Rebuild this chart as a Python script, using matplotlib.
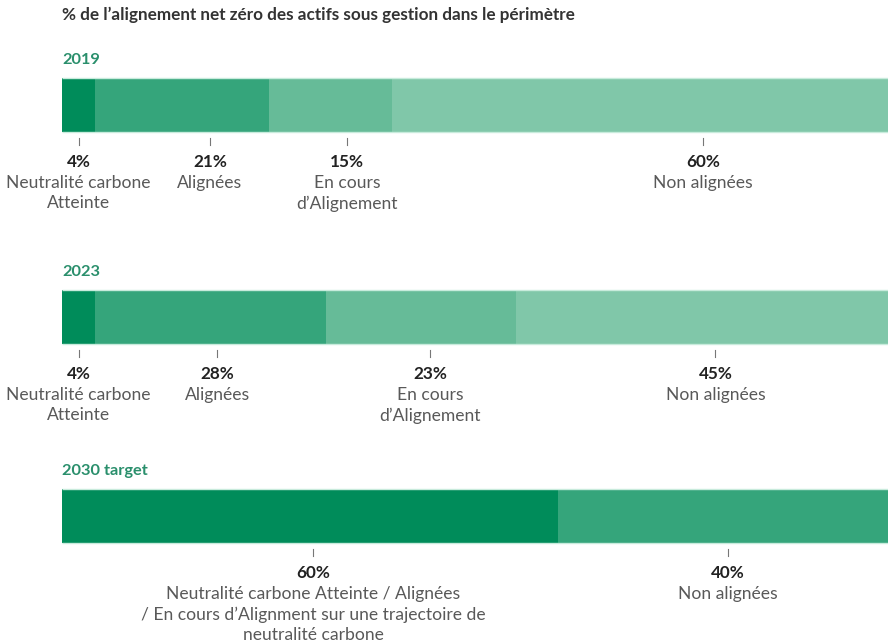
import matplotlib.pyplot as plt

plt.rcParams['font.family'] = ['Lato', 'DejaVu Sans']

title = '% de l’alignement net zéro des actifs sous gestion dans le périmètre'

years = ['2019', '2023', '2030 target']

values_2019 = [4, 21, 15, 60]
labels_2019 = ['Neutralité carbone\nAtteinte', 'Alignées',
               'En cours\nd’Alignement', 'Non alignées']

values_2023 = [4, 28, 23, 45]
labels_2023 = ['Neutralité carbone\nAtteinte', 'Alignées',
               'En cours\nd’Alignement', 'Non alignées']

values_2030 = [60, 40]
labels_2030 = ['Neutralité carbone Atteinte / Alignées\n'
               '/ En cours d’Alignment sur une trajectoire de\n'
               'neutralité carbone',
               'Non alignées']

# couleurs et positions des étiquettes (mise en page)
colors_4 = ['#008c5a', '#35a57b', '#66bb98', '#80c7a9']
colors_2 = ['#008c5a', '#35a57b']
label_x_2019 = [2.0, 17.9, 34.5, 77.6]
label_x_2023 = [2.0, 18.8, 44.6, 79.1]
label_x_2030 = [30.4, 80.6]
bar_tops = [78, 290, 489]
bar_h = 54

rows = [
    (years[0], values_2019, labels_2019, colors_4, label_x_2019, bar_tops[0]),
    (years[1], values_2023, labels_2023, colors_4, label_x_2023, bar_tops[1]),
    (years[2], values_2030, labels_2030, colors_2, label_x_2030, bar_tops[2]),
]

fig = plt.figure(figsize=(8.88, 6.42), dpi=100)
ax = fig.add_axes([62 / 888, 0, 826 / 888, 1])
ax.set_xlim(0, 100)
ax.set_ylim(642, 0)
ax.axis('off')

ax.text(0, 15, title, ha='left', va='center', fontsize=12.3,
        fontweight='bold', color='#333333')

for year, values, labels, colors, label_x, top in rows:
    ax.text(0, top - 18, year, ha='left', va='center', fontsize=11.8,
            fontweight='bold', color='#2a8f6c')

    lefts = [sum(values[:i]) for i in range(len(values))]
    ax.barh(top + bar_h / 2, values, left=lefts, height=bar_h, color=colors)
    bottom = top + bar_h
    ax.hlines([top, bottom], 0, 100, color='#c8ebdc', lw=1)

    for x, v, lab in zip(label_x, values, labels):
        ax.plot([x, x], [bottom + 6, bottom + 13], color='#777777', lw=0.8)
        ax.text(x, bottom + 30, f'{v}%', ha='center', va='center',
                fontsize=12.3, fontweight='bold', color='#222222')
        for i, line in enumerate(lab.split('\n')):
            ax.text(x, bottom + 51 + 20.5 * i, line, ha='center', va='center',
                    fontsize=12.6, color='#595959')

fig.savefig('out.png', dpi=100)
